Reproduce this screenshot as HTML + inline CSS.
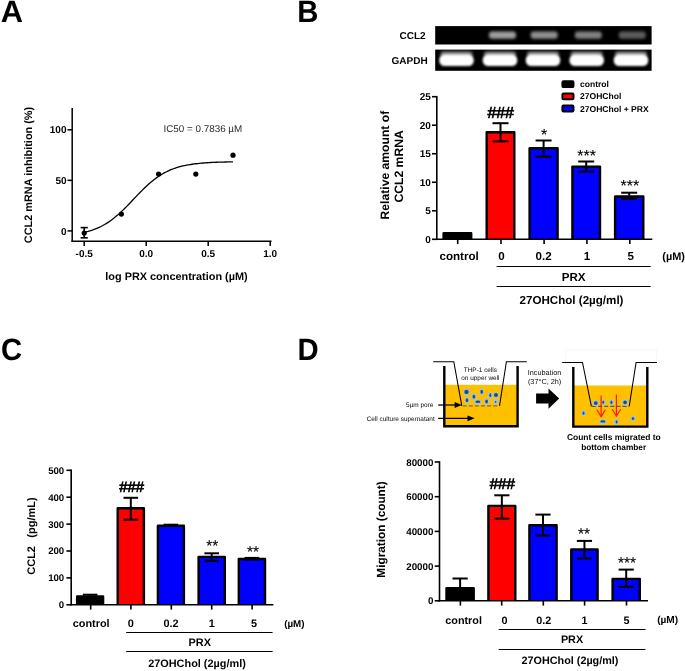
<!DOCTYPE html>
<html><head><meta charset="utf-8"><title>Figure</title>
<style>html,body{margin:0;padding:0;background:#fff;}svg{display:block;will-change:transform;font-family:"Liberation Sans",sans-serif;}</style>
</head><body>
<svg width="685" height="671" viewBox="0 0 685 671" font-family="Liberation Sans, sans-serif" text-rendering="geometricPrecision">
<rect width="685" height="671" fill="#fff"/>
<text x="0.8" y="22.1" font-size="30.8" font-weight="bold" text-anchor="start" fill="#000" >A</text>
<text transform="translate(297.2,22.1) scale(0.95,1)" font-size="30.8" font-weight="bold">B</text>
<text transform="translate(1.1,360.3) scale(0.95,1)" font-size="30.8" font-weight="bold">C</text>
<text transform="translate(297.5,360.3) scale(0.95,1)" font-size="30.8" font-weight="bold">D</text>
<line x1="72.2" y1="108" x2="72.2" y2="241.95" stroke="#000" stroke-width="1.5" />
<line x1="71.45" y1="241.2" x2="271.5" y2="241.2" stroke="#000" stroke-width="1.5" />
<line x1="67.5" y1="230.9" x2="72.2" y2="230.9" stroke="#000" stroke-width="1.5" />
<text x="66.5" y="234.5" font-size="10" font-weight="bold" text-anchor="end" fill="#000" >0</text>
<line x1="67.5" y1="180.35000000000002" x2="72.2" y2="180.35000000000002" stroke="#000" stroke-width="1.5" />
<text x="66.5" y="183.95000000000002" font-size="10" font-weight="bold" text-anchor="end" fill="#000" >50</text>
<line x1="67.5" y1="129.8" x2="72.2" y2="129.8" stroke="#000" stroke-width="1.5" />
<text x="66.5" y="133.4" font-size="10" font-weight="bold" text-anchor="end" fill="#000" >100</text>
<line x1="84.19999999999999" y1="241.2" x2="84.19999999999999" y2="245.89999999999998" stroke="#000" stroke-width="1.5" />
<text x="84.19999999999999" y="256.7" font-size="10" font-weight="bold" text-anchor="middle" fill="#000" >-0.5</text>
<line x1="146.2" y1="241.2" x2="146.2" y2="245.89999999999998" stroke="#000" stroke-width="1.5" />
<text x="146.2" y="256.7" font-size="10" font-weight="bold" text-anchor="middle" fill="#000" >0.0</text>
<line x1="208.2" y1="241.2" x2="208.2" y2="245.89999999999998" stroke="#000" stroke-width="1.5" />
<text x="208.2" y="256.7" font-size="10" font-weight="bold" text-anchor="middle" fill="#000" >0.5</text>
<line x1="270.2" y1="241.2" x2="270.2" y2="245.89999999999998" stroke="#000" stroke-width="1.5" />
<text x="270.2" y="256.7" font-size="10" font-weight="bold" text-anchor="middle" fill="#000" >1.0</text>
<polyline points="84.20,232.38 86.06,231.93 87.92,231.44 89.78,230.90 91.64,230.31 93.50,229.66 95.36,228.96 97.22,228.20 99.08,227.37 100.94,226.48 102.80,225.51 104.66,224.48 106.52,223.36 108.38,222.17 110.24,220.90 112.10,219.54 113.96,218.11 115.82,216.60 117.68,215.02 119.54,213.36 121.40,211.64 123.26,209.86 125.12,208.02 126.98,206.13 128.84,204.21 130.70,202.26 132.56,200.30 134.42,198.32 136.28,196.35 138.14,194.40 140.00,192.48 141.86,190.58 143.72,188.74 145.58,186.94 147.44,185.21 149.30,183.54 151.16,181.95 153.02,180.42 154.88,178.98 156.74,177.61 158.60,176.33 160.46,175.12 162.32,174.00 164.18,172.94 166.04,171.97 167.90,171.06 169.76,170.22 171.62,169.45 173.48,168.74 175.34,168.09 177.20,167.49 179.06,166.94 180.92,166.44 182.78,165.98 184.64,165.57 186.50,165.19 188.36,164.84 190.22,164.53 192.08,164.24 193.94,163.98 195.80,163.75 197.66,163.54 199.52,163.35 201.38,163.17 203.24,163.02 205.10,162.87 206.96,162.75 208.82,162.63 210.68,162.52 212.54,162.43 214.40,162.34 216.26,162.27 218.12,162.20 219.98,162.14 221.84,162.08 223.70,162.03 225.56,161.98 227.42,161.94 229.28,161.90 231.14,161.87 233.00,161.84" fill="none" stroke="#000" stroke-width="1.3"/>
<circle cx="84.2" cy="233.0" r="2.6" fill="#000"/>
<circle cx="121.4" cy="214.1" r="2.6" fill="#000"/>
<circle cx="158.6" cy="174.1" r="2.6" fill="#000"/>
<circle cx="195.8" cy="174.1" r="2.6" fill="#000"/>
<circle cx="233.0" cy="155.2" r="2.6" fill="#000"/>
<line x1="84.19999999999999" y1="227.6" x2="84.19999999999999" y2="237.8" stroke="#000" stroke-width="1.6" />
<line x1="80.6" y1="227.6" x2="87.79999999999998" y2="227.6" stroke="#000" stroke-width="1.6" />
<line x1="80.6" y1="237.8" x2="87.79999999999998" y2="237.8" stroke="#000" stroke-width="1.6" />
<text x="163.5" y="131.5" font-size="9.85"  text-anchor="start" fill="#2c2c2c" >IC50 = 0.7836 µM</text>
<text x="176.5" y="280.0" font-size="10.9" font-weight="bold" text-anchor="middle" fill="#000" >log PRX concentration (µM)</text>
<text transform="translate(32,175) rotate(-90)" font-size="10.9" font-weight="bold" text-anchor="middle" >CCL2 mRNA inhibition (%)</text>
<path d="M443.59999999999997,239.3 V233.29999999999998 H471.2 V239.3" fill="#000000" stroke="#000" stroke-width="2.4" stroke-linejoin="round"/>
<line x1="457.7" y1="239.3" x2="457.7" y2="244.10000000000002" stroke="#000" stroke-width="1.6" />
<line x1="500.5" y1="123.2" x2="500.5" y2="132.0" stroke="#000" stroke-width="2.0" />
<line x1="492.5" y1="123.2" x2="508.5" y2="123.2" stroke="#000" stroke-width="2.0" />
<path d="M486.7,239.3 V132.2 H514.3 V239.3" fill="#ff0000" stroke="#000" stroke-width="2.4" stroke-linejoin="round"/>
<line x1="500.5" y1="132.0" x2="500.5" y2="141.4" stroke="#000" stroke-width="2.0" />
<line x1="492.5" y1="141.4" x2="508.5" y2="141.4" stroke="#000" stroke-width="2.0" />
<line x1="501" y1="239.3" x2="501" y2="244.10000000000002" stroke="#000" stroke-width="1.6" />
<line x1="543.5999999999999" y1="140.5" x2="543.5999999999999" y2="148.0" stroke="#000" stroke-width="2.0" />
<line x1="535.5999999999999" y1="140.5" x2="551.5999999999999" y2="140.5" stroke="#000" stroke-width="2.0" />
<path d="M529.6,239.3 V148.2 H557.5999999999999 V239.3" fill="#0000ff" stroke="#000" stroke-width="2.4" stroke-linejoin="round"/>
<line x1="543.5999999999999" y1="148.0" x2="543.5999999999999" y2="156.6" stroke="#000" stroke-width="2.0" />
<line x1="535.5999999999999" y1="156.6" x2="551.5999999999999" y2="156.6" stroke="#000" stroke-width="2.0" />
<line x1="544.1" y1="239.3" x2="544.1" y2="244.10000000000002" stroke="#000" stroke-width="1.6" />
<line x1="586.2" y1="161.5" x2="586.2" y2="166.4" stroke="#000" stroke-width="2.0" />
<line x1="578.2" y1="161.5" x2="594.2" y2="161.5" stroke="#000" stroke-width="2.0" />
<path d="M572.4000000000001,239.3 V166.6 H600.0 V239.3" fill="#0000ff" stroke="#000" stroke-width="2.4" stroke-linejoin="round"/>
<line x1="586.2" y1="166.4" x2="586.2" y2="171.7" stroke="#000" stroke-width="2.0" />
<line x1="578.2" y1="171.7" x2="594.2" y2="171.7" stroke="#000" stroke-width="2.0" />
<line x1="586.9" y1="239.3" x2="586.9" y2="244.10000000000002" stroke="#000" stroke-width="1.6" />
<line x1="629.2" y1="192.7" x2="629.2" y2="196.3" stroke="#000" stroke-width="2.0" />
<line x1="621.2" y1="192.7" x2="637.2" y2="192.7" stroke="#000" stroke-width="2.0" />
<path d="M615.1,239.3 V196.5 H643.3 V239.3" fill="#0000ff" stroke="#000" stroke-width="2.4" stroke-linejoin="round"/>
<line x1="629.2" y1="196.3" x2="629.2" y2="198.8" stroke="#000" stroke-width="2.0" />
<line x1="621.2" y1="198.8" x2="637.2" y2="198.8" stroke="#000" stroke-width="2.0" />
<line x1="629.8" y1="239.3" x2="629.8" y2="244.10000000000002" stroke="#000" stroke-width="1.6" />
<line x1="436.8" y1="95.9" x2="436.8" y2="240.10000000000002" stroke="#000" stroke-width="1.6" />
<line x1="436.0" y1="239.3" x2="652.3" y2="239.3" stroke="#000" stroke-width="1.6" />
<line x1="432.0" y1="239.3" x2="436.8" y2="239.3" stroke="#000" stroke-width="1.6" />
<text x="430.8" y="242.9" font-size="10" font-weight="bold" text-anchor="end" fill="#000" >0</text>
<line x1="432.0" y1="210.78" x2="436.8" y2="210.78" stroke="#000" stroke-width="1.6" />
<text x="430.8" y="214.38" font-size="10" font-weight="bold" text-anchor="end" fill="#000" >5</text>
<line x1="432.0" y1="182.26000000000002" x2="436.8" y2="182.26000000000002" stroke="#000" stroke-width="1.6" />
<text x="430.8" y="185.86" font-size="10" font-weight="bold" text-anchor="end" fill="#000" >10</text>
<line x1="432.0" y1="153.74" x2="436.8" y2="153.74" stroke="#000" stroke-width="1.6" />
<text x="430.8" y="157.34" font-size="10" font-weight="bold" text-anchor="end" fill="#000" >15</text>
<line x1="432.0" y1="125.22000000000001" x2="436.8" y2="125.22000000000001" stroke="#000" stroke-width="1.6" />
<text x="430.8" y="128.82000000000002" font-size="10" font-weight="bold" text-anchor="end" fill="#000" >20</text>
<line x1="432.0" y1="96.70000000000002" x2="436.8" y2="96.70000000000002" stroke="#000" stroke-width="1.6" />
<text x="430.8" y="100.30000000000001" font-size="10" font-weight="bold" text-anchor="end" fill="#000" >25</text>
<text x="459.1" y="260.3" font-size="11.6" font-weight="bold" text-anchor="middle" fill="#000" >control</text>
<text x="501.6" y="260.3" font-size="11.6" font-weight="bold" text-anchor="middle" fill="#000" >0</text>
<text x="543.6" y="260.3" font-size="11.6" font-weight="bold" text-anchor="middle" fill="#000" >0.2</text>
<text x="586.9" y="260.3" font-size="11.6" font-weight="bold" text-anchor="middle" fill="#000" >1</text>
<text x="630.8" y="260.3" font-size="11.6" font-weight="bold" text-anchor="middle" fill="#000" >5</text>
<text x="662.3" y="260.3" font-size="10.9" font-weight="bold" text-anchor="start" fill="#000" >(µM)</text>
<line x1="496.6" y1="266.5" x2="650.7" y2="266.5" stroke="#000" stroke-width="1" />
<line x1="496.6" y1="286.5" x2="650.7" y2="286.5" stroke="#000" stroke-width="1" />
<text x="573.7" y="280.8" font-size="11.6" font-weight="bold" text-anchor="middle" fill="#000" >PRX</text>
<text x="571.5" y="303.5" font-size="11.6" font-weight="bold" text-anchor="middle" fill="#000" >27OHChol (2µg/ml)</text>
<text x="500.7" y="118.2" font-size="15.9"  text-anchor="middle" fill="#000" stroke="#000" stroke-width="0.7">###</text>
<text x="544.1" y="139.6" font-size="16"  text-anchor="middle" fill="#000" stroke="#000" stroke-width="0.12">*</text>
<text x="586.6" y="160.8" font-size="16"  text-anchor="middle" fill="#000" stroke="#000" stroke-width="0.12">***</text>
<text x="629.8" y="191.2" font-size="16"  text-anchor="middle" fill="#000" stroke="#000" stroke-width="0.12">***</text>
<text transform="translate(389.2,165.1) rotate(-90)" font-size="12.15" font-weight="bold" text-anchor="middle" >Relative amount of</text>
<text transform="translate(403.2,166.4) rotate(-90)" font-size="12.15" font-weight="bold" text-anchor="middle" >CCL2 mRNA</text>
<rect x="562.4" y="81.2" width="11.1" height="5.9" rx="1.2" fill="#000000" stroke="#000" stroke-width="2"/>
<text x="580" y="87.1" font-size="8.55" font-weight="bold" text-anchor="start" fill="#000" >control</text>
<rect x="562.4" y="93.4" width="11.1" height="5.9" rx="1.2" fill="#ff0000" stroke="#000" stroke-width="2"/>
<text x="580" y="99.3" font-size="8.55" font-weight="bold" text-anchor="start" fill="#000" >27OHChol</text>
<rect x="562.4" y="105.60000000000001" width="11.1" height="5.9" rx="1.2" fill="#0000ff" stroke="#000" stroke-width="2"/>
<text x="580" y="111.5" font-size="8.55" font-weight="bold" text-anchor="start" fill="#000" >27OHChol + PRX</text>
<text x="399.5" y="38.6" font-size="10" font-weight="bold" text-anchor="start" fill="#000" >CCL2</text>
<text x="391.5" y="63.6" font-size="10" font-weight="bold" text-anchor="start" fill="#000" >GAPDH</text>
<rect x="435.2" y="26.1" width="216.4" height="18.4" fill="#000"  />
<rect x="435.2" y="49.6" width="216.4" height="21.2" fill="#000"  />
<defs><filter id="bl" x="-20%" y="-50%" width="140%" height="200%"><feGaussianBlur stdDeviation="1.6"/></filter><filter id="bl2" x="-20%" y="-50%" width="140%" height="200%"><feGaussianBlur stdDeviation="1.25"/></filter></defs>
<rect x="489.0" y="31.6" width="27" height="7.2" rx="3" fill="#fff" opacity="0.62" filter="url(#bl)"/>
<rect x="530.7" y="31.6" width="27" height="7.2" rx="3" fill="#fff" opacity="0.56" filter="url(#bl)"/>
<rect x="574.8" y="31.6" width="27" height="7.2" rx="3" fill="#fff" opacity="0.5" filter="url(#bl)"/>
<rect x="618.8" y="31.6" width="27" height="7.2" rx="3" fill="#fff" opacity="0.36" filter="url(#bl)"/>
<rect x="440.5" y="51.5" width="32" height="6" rx="3" fill="#fff" opacity="0.55" filter="url(#bl)"/>
<rect x="439.2" y="54.6" width="34.6" height="11.4" rx="5.5" fill="#fff" filter="url(#bl2)"/>
<rect x="484" y="51.5" width="32" height="6" rx="3" fill="#fff" opacity="0.55" filter="url(#bl)"/>
<rect x="482.7" y="54.6" width="34.6" height="11.4" rx="5.5" fill="#fff" filter="url(#bl2)"/>
<rect x="527" y="51.5" width="32" height="6" rx="3" fill="#fff" opacity="0.55" filter="url(#bl)"/>
<rect x="525.7" y="54.6" width="34.6" height="11.4" rx="5.5" fill="#fff" filter="url(#bl2)"/>
<rect x="570.7" y="51.5" width="32" height="6" rx="3" fill="#fff" opacity="0.55" filter="url(#bl)"/>
<rect x="569.4000000000001" y="54.6" width="34.6" height="11.4" rx="5.5" fill="#fff" filter="url(#bl2)"/>
<rect x="615" y="51.5" width="32" height="6" rx="3" fill="#fff" opacity="0.55" filter="url(#bl)"/>
<rect x="613.7" y="54.6" width="34.6" height="11.4" rx="5.5" fill="#fff" filter="url(#bl2)"/>
<line x1="90.1" y1="594.7" x2="90.1" y2="596.2" stroke="#000" stroke-width="2.0" />
<line x1="82.8" y1="594.7" x2="97.39999999999999" y2="594.7" stroke="#000" stroke-width="2.0" />
<path d="M77.10000000000001,604.8 V596.4000000000001 H103.1 V604.8" fill="#000000" stroke="#000" stroke-width="2.4" stroke-linejoin="round"/>
<line x1="90.7" y1="604.8" x2="90.7" y2="609.5999999999999" stroke="#000" stroke-width="1.6" />
<line x1="130.8" y1="497.8" x2="130.8" y2="508.0" stroke="#000" stroke-width="2.0" />
<line x1="123.50000000000001" y1="497.8" x2="138.10000000000002" y2="497.8" stroke="#000" stroke-width="2.0" />
<path d="M117.7,604.8 V508.2 H143.9 V604.8" fill="#ff0000" stroke="#000" stroke-width="2.4" stroke-linejoin="round"/>
<line x1="130.8" y1="508.0" x2="130.8" y2="519.7" stroke="#000" stroke-width="2.0" />
<line x1="123.50000000000001" y1="519.7" x2="138.10000000000002" y2="519.7" stroke="#000" stroke-width="2.0" />
<line x1="130.9" y1="604.8" x2="130.9" y2="609.5999999999999" stroke="#000" stroke-width="1.6" />
<line x1="170.89999999999998" y1="524.7" x2="170.89999999999998" y2="525.6" stroke="#000" stroke-width="2.0" />
<line x1="163.59999999999997" y1="524.7" x2="178.2" y2="524.7" stroke="#000" stroke-width="2.0" />
<path d="M157.89999999999998,604.8 V525.8000000000001 H183.9 V604.8" fill="#0000ff" stroke="#000" stroke-width="2.4" stroke-linejoin="round"/>
<line x1="170.89999999999998" y1="525.6" x2="170.89999999999998" y2="526.0" stroke="#000" stroke-width="2.0" />
<line x1="163.59999999999997" y1="526.0" x2="178.2" y2="526.0" stroke="#000" stroke-width="2.0" />
<line x1="171.3" y1="604.8" x2="171.3" y2="609.5999999999999" stroke="#000" stroke-width="1.6" />
<line x1="211.7" y1="553.3" x2="211.7" y2="556.7" stroke="#000" stroke-width="2.0" />
<line x1="204.39999999999998" y1="553.3" x2="219.0" y2="553.3" stroke="#000" stroke-width="2.0" />
<path d="M198.6,604.8 V556.9000000000001 H224.8 V604.8" fill="#0000ff" stroke="#000" stroke-width="2.4" stroke-linejoin="round"/>
<line x1="211.7" y1="556.7" x2="211.7" y2="560.8" stroke="#000" stroke-width="2.0" />
<line x1="204.39999999999998" y1="560.8" x2="219.0" y2="560.8" stroke="#000" stroke-width="2.0" />
<line x1="211.7" y1="604.8" x2="211.7" y2="609.5999999999999" stroke="#000" stroke-width="1.6" />
<line x1="251.89999999999998" y1="557.9" x2="251.89999999999998" y2="558.8" stroke="#000" stroke-width="2.0" />
<line x1="244.59999999999997" y1="557.9" x2="259.2" y2="557.9" stroke="#000" stroke-width="2.0" />
<path d="M238.79999999999998,604.8 V559.0 H265.0 V604.8" fill="#0000ff" stroke="#000" stroke-width="2.4" stroke-linejoin="round"/>
<line x1="251.89999999999998" y1="558.8" x2="251.89999999999998" y2="559.4" stroke="#000" stroke-width="2.0" />
<line x1="244.59999999999997" y1="559.4" x2="259.2" y2="559.4" stroke="#000" stroke-width="2.0" />
<line x1="252.1" y1="604.8" x2="252.1" y2="609.5999999999999" stroke="#000" stroke-width="1.6" />
<line x1="71.2" y1="469.5" x2="71.2" y2="605.5999999999999" stroke="#000" stroke-width="1.6" />
<line x1="70.4" y1="604.8" x2="273.4" y2="604.8" stroke="#000" stroke-width="1.6" />
<line x1="66.4" y1="604.8" x2="71.2" y2="604.8" stroke="#000" stroke-width="1.6" />
<text x="64.2" y="608.274" font-size="9.65" font-weight="bold" text-anchor="end" fill="#000" >0</text>
<line x1="66.4" y1="577.9" x2="71.2" y2="577.9" stroke="#000" stroke-width="1.6" />
<text x="64.2" y="581.374" font-size="9.65" font-weight="bold" text-anchor="end" fill="#000" >100</text>
<line x1="66.4" y1="551.0" x2="71.2" y2="551.0" stroke="#000" stroke-width="1.6" />
<text x="64.2" y="554.474" font-size="9.65" font-weight="bold" text-anchor="end" fill="#000" >200</text>
<line x1="66.4" y1="524.0999999999999" x2="71.2" y2="524.0999999999999" stroke="#000" stroke-width="1.6" />
<text x="64.2" y="527.574" font-size="9.65" font-weight="bold" text-anchor="end" fill="#000" >300</text>
<line x1="66.4" y1="497.19999999999993" x2="71.2" y2="497.19999999999993" stroke="#000" stroke-width="1.6" />
<text x="64.2" y="500.6739999999999" font-size="9.65" font-weight="bold" text-anchor="end" fill="#000" >400</text>
<line x1="66.4" y1="470.29999999999995" x2="71.2" y2="470.29999999999995" stroke="#000" stroke-width="1.6" />
<text x="64.2" y="473.77399999999994" font-size="9.65" font-weight="bold" text-anchor="end" fill="#000" >500</text>
<text x="91.2" y="626.7" font-size="10.9" font-weight="bold" text-anchor="middle" fill="#000" >control</text>
<text x="130.9" y="626.7" font-size="10.9" font-weight="bold" text-anchor="middle" fill="#000" >0</text>
<text x="171" y="626.7" font-size="10.9" font-weight="bold" text-anchor="middle" fill="#000" >0.2</text>
<text x="211.7" y="626.7" font-size="10.9" font-weight="bold" text-anchor="middle" fill="#000" >1</text>
<text x="254" y="626.7" font-size="10.9" font-weight="bold" text-anchor="middle" fill="#000" >5</text>
<text x="284.2" y="626.7" font-size="9.8" font-weight="bold" text-anchor="start" fill="#000" >(µM)</text>
<line x1="126.2" y1="632.5" x2="272.6" y2="632.5" stroke="#000" stroke-width="1" />
<line x1="126.2" y1="651.5" x2="272.6" y2="651.5" stroke="#000" stroke-width="1" />
<text x="199.8" y="646.4" font-size="10.9" font-weight="bold" text-anchor="middle" fill="#000" >PRX</text>
<text x="197" y="667.4" font-size="10.9" font-weight="bold" text-anchor="middle" fill="#000" >27OHChol (2µg/ml)</text>
<text x="131.7" y="491.7" font-size="14.9"  text-anchor="middle" fill="#000" stroke="#000" stroke-width="0.7">###</text>
<text x="212.2" y="551.0" font-size="15.5"  text-anchor="middle" fill="#000" stroke="#000" stroke-width="0.12">**</text>
<text x="253.1" y="557.2" font-size="15.5"  text-anchor="middle" fill="#000" stroke="#000" stroke-width="0.12">**</text>
<text transform="translate(35.2,560.4) rotate(-90)" font-size="11" font-weight="bold" text-anchor="middle" >CCL2</text>
<text transform="translate(35.2,517.5) rotate(-90)" font-size="11" font-weight="bold" text-anchor="middle" >(pg/mL)</text>
<line x1="460.1" y1="578.5" x2="460.1" y2="588.1" stroke="#000" stroke-width="2.0" />
<line x1="452.5" y1="578.5" x2="467.70000000000005" y2="578.5" stroke="#000" stroke-width="2.0" />
<path d="M446.5,600.8 V588.3000000000001 H473.7 V600.8" fill="#000000" stroke="#000" stroke-width="2.4" stroke-linejoin="round"/>
<line x1="460.4" y1="600.8" x2="460.4" y2="605.5999999999999" stroke="#000" stroke-width="1.6" />
<line x1="501.85" y1="495.3" x2="501.85" y2="505.7" stroke="#000" stroke-width="2.0" />
<line x1="494.25" y1="495.3" x2="509.45000000000005" y2="495.3" stroke="#000" stroke-width="2.0" />
<path d="M488.4,600.8 V505.9 H515.3 V600.8" fill="#ff0000" stroke="#000" stroke-width="2.4" stroke-linejoin="round"/>
<line x1="501.85" y1="505.7" x2="501.85" y2="518.6" stroke="#000" stroke-width="2.0" />
<line x1="494.25" y1="518.6" x2="509.45000000000005" y2="518.6" stroke="#000" stroke-width="2.0" />
<line x1="501.7" y1="600.8" x2="501.7" y2="605.5999999999999" stroke="#000" stroke-width="1.6" />
<line x1="543.0" y1="514.6" x2="543.0" y2="525.0" stroke="#000" stroke-width="2.0" />
<line x1="535.4" y1="514.6" x2="550.6" y2="514.6" stroke="#000" stroke-width="2.0" />
<path d="M529.4000000000001,600.8 V525.2 H556.5999999999999 V600.8" fill="#0000ff" stroke="#000" stroke-width="2.4" stroke-linejoin="round"/>
<line x1="543.0" y1="525.0" x2="543.0" y2="535.5" stroke="#000" stroke-width="2.0" />
<line x1="535.4" y1="535.5" x2="550.6" y2="535.5" stroke="#000" stroke-width="2.0" />
<line x1="543.3" y1="600.8" x2="543.3" y2="605.5999999999999" stroke="#000" stroke-width="1.6" />
<line x1="584.45" y1="540.9" x2="584.45" y2="549.2" stroke="#000" stroke-width="2.0" />
<line x1="576.85" y1="540.9" x2="592.0500000000001" y2="540.9" stroke="#000" stroke-width="2.0" />
<path d="M571.3000000000001,600.8 V549.4000000000001 H597.5999999999999 V600.8" fill="#0000ff" stroke="#000" stroke-width="2.4" stroke-linejoin="round"/>
<line x1="584.45" y1="549.2" x2="584.45" y2="558.4" stroke="#000" stroke-width="2.0" />
<line x1="576.85" y1="558.4" x2="592.0500000000001" y2="558.4" stroke="#000" stroke-width="2.0" />
<line x1="584.6" y1="600.8" x2="584.6" y2="605.5999999999999" stroke="#000" stroke-width="1.6" />
<line x1="626.2" y1="569.6" x2="626.2" y2="578.7" stroke="#000" stroke-width="2.0" />
<line x1="618.6" y1="569.6" x2="633.8000000000001" y2="569.6" stroke="#000" stroke-width="2.0" />
<path d="M612.6,600.8 V578.9000000000001 H639.8 V600.8" fill="#0000ff" stroke="#000" stroke-width="2.4" stroke-linejoin="round"/>
<line x1="626.2" y1="578.7" x2="626.2" y2="586.8" stroke="#000" stroke-width="2.0" />
<line x1="618.6" y1="586.8" x2="633.8000000000001" y2="586.8" stroke="#000" stroke-width="2.0" />
<line x1="626.5" y1="600.8" x2="626.5" y2="605.5999999999999" stroke="#000" stroke-width="1.6" />
<line x1="439.5" y1="461.2" x2="439.5" y2="601.5999999999999" stroke="#000" stroke-width="1.6" />
<line x1="438.7" y1="600.8" x2="648" y2="600.8" stroke="#000" stroke-width="1.6" />
<line x1="434.7" y1="600.8" x2="439.5" y2="600.8" stroke="#000" stroke-width="1.6" />
<text x="433.4" y="604.31" font-size="9.75" font-weight="bold" text-anchor="end" fill="#000" >0</text>
<line x1="434.7" y1="566.0999999999999" x2="439.5" y2="566.0999999999999" stroke="#000" stroke-width="1.6" />
<text x="433.4" y="569.6099999999999" font-size="9.75" font-weight="bold" text-anchor="end" fill="#000" >20000</text>
<line x1="434.7" y1="531.4" x2="439.5" y2="531.4" stroke="#000" stroke-width="1.6" />
<text x="433.4" y="534.91" font-size="9.75" font-weight="bold" text-anchor="end" fill="#000" >40000</text>
<line x1="434.7" y1="496.69999999999993" x2="439.5" y2="496.69999999999993" stroke="#000" stroke-width="1.6" />
<text x="433.4" y="500.2099999999999" font-size="9.75" font-weight="bold" text-anchor="end" fill="#000" >60000</text>
<line x1="434.7" y1="461.99999999999994" x2="439.5" y2="461.99999999999994" stroke="#000" stroke-width="1.6" />
<text x="433.4" y="465.50999999999993" font-size="9.75" font-weight="bold" text-anchor="end" fill="#000" >80000</text>
<text x="463.6" y="623.6" font-size="10.8" font-weight="bold" text-anchor="middle" fill="#000" >control</text>
<text x="504.4" y="623.6" font-size="10.8" font-weight="bold" text-anchor="middle" fill="#000" >0</text>
<text x="543.8" y="624.3000000000001" font-size="10.8" font-weight="bold" text-anchor="middle" fill="#000" >0.2</text>
<text x="584.6" y="624.3000000000001" font-size="10.8" font-weight="bold" text-anchor="middle" fill="#000" >1</text>
<text x="626.5" y="624.3000000000001" font-size="10.8" font-weight="bold" text-anchor="middle" fill="#000" >5</text>
<text x="657.2" y="623.2" font-size="10.1" font-weight="bold" text-anchor="start" fill="#000" >(µM)</text>
<line x1="498.7" y1="629.5" x2="645.5" y2="629.5" stroke="#000" stroke-width="1" />
<line x1="498.7" y1="649.5" x2="645.5" y2="649.5" stroke="#000" stroke-width="1" />
<text x="572" y="643.3" font-size="10.8" font-weight="bold" text-anchor="middle" fill="#000" >PRX</text>
<text x="570" y="664.2" font-size="10.8" font-weight="bold" text-anchor="middle" fill="#000" >27OHChol (2µg/ml)</text>
<text x="502.3" y="489.2" font-size="15.1"  text-anchor="middle" fill="#000" stroke="#000" stroke-width="0.7">###</text>
<text x="584" y="538.5" font-size="15.5"  text-anchor="middle" fill="#000" stroke="#000" stroke-width="0.12">**</text>
<text x="627" y="567.9" font-size="15.5"  text-anchor="middle" fill="#000" stroke="#000" stroke-width="0.12">***</text>
<text transform="translate(384.9,529.5) rotate(-90)" font-size="11.8" font-weight="bold" text-anchor="middle" >Migration (count)</text>
<rect x="444.3" y="384.8" width="73.3" height="41.4" fill="#ffc000"  />
<path d="M444.3,366.1 V426.2 H517.6 V366.1" fill="none" stroke="#000" stroke-width="2.4"/>
<path d="M433.2,361.7 H453.8 L461.8,405.8" fill="none" stroke="#000" stroke-width="1.05"/>
<path d="M526.8,361.7 H506.4 L499.5,405.8" fill="none" stroke="#000" stroke-width="1.05"/>
<line x1="462.6" y1="405.9" x2="499.2" y2="405.9" stroke="#6b6f7a" stroke-width="1.3" stroke-dasharray="4.1,2"/>
<ellipse cx="466.5" cy="391.9" rx="3.4" ry="3.4" fill="#9dc3e6"/>
<ellipse cx="466.5" cy="391.9" rx="2.2" ry="2.2" fill="#1f4e79"/>
<ellipse cx="481.7" cy="391.8" rx="2.4" ry="3.2" fill="#9dc3e6"/>
<ellipse cx="481.7" cy="391.8" rx="1.3" ry="2.1" fill="#1f4e79"/>
<ellipse cx="473.9" cy="396.7" rx="2.7" ry="3.1" fill="#9dc3e6"/>
<ellipse cx="473.9" cy="396.7" rx="1.4" ry="1.9" fill="#1f4e79"/>
<ellipse cx="490.3" cy="395.3" rx="2.2" ry="3.1" fill="#9dc3e6"/>
<ellipse cx="490.3" cy="395.3" rx="1.0" ry="2.0" fill="#1f4e79"/>
<ellipse cx="496" cy="394.9" rx="3.0" ry="3.0" fill="#9dc3e6"/>
<ellipse cx="496" cy="394.9" rx="2.0" ry="2.0" fill="#1f4e79"/>
<ellipse cx="467" cy="400.2" rx="2.5" ry="3.1" fill="#9dc3e6"/>
<ellipse cx="467" cy="400.2" rx="1.3" ry="2.0" fill="#1f4e79"/>
<ellipse cx="477.9" cy="401.8" rx="3.9" ry="2.4" fill="#9dc3e6"/>
<ellipse cx="477.9" cy="401.8" rx="2.5" ry="1.2" fill="#1f4e79"/>
<ellipse cx="486.6" cy="401.4" rx="2.6" ry="3.2" fill="#9dc3e6"/>
<ellipse cx="486.6" cy="401.4" rx="1.4" ry="2.0" fill="#1f4e79"/>
<ellipse cx="495.6" cy="401.8" rx="2.5" ry="2.5" fill="#9dc3e6"/>
<ellipse cx="495.6" cy="401.8" rx="0.9" ry="0.9" fill="#1f4e79"/>
<text x="480.4" y="371.8" font-size="6.45"  text-anchor="middle" fill="#0a0a0a" >THP-1 cells</text>
<text x="480.4" y="379.8" font-size="6.45"  text-anchor="middle" fill="#0a0a0a" >on upper well</text>
<text x="433.4" y="406.5" font-size="6.45"  text-anchor="end" fill="#0a0a0a" >5µm pore</text>
<text x="434.7" y="420.5" font-size="6.45"  text-anchor="end" fill="#0a0a0a" >Cell culture supernatant</text>
<line x1="438.2" y1="405.0" x2="457.8" y2="405.0" stroke="#000" stroke-width="1.25" />
<path d="M461.8,405.0 L454.6,402.1 L454.6,407.9 Z" fill="#000"/>
<line x1="438.2" y1="418.3" x2="470.7" y2="418.3" stroke="#000" stroke-width="1.25" />
<path d="M474.7,418.3 L467.5,415.40000000000003 L467.5,421.2 Z" fill="#000"/>
<path d="M536.1,393.4 H548.5 V388.5 L559.2,398.6 L548.5,408.8 V403.4 H536.1 Z" fill="#000"/>
<text x="544.6" y="374.8" font-size="7.3"  text-anchor="middle" fill="#0a0a0a" >Incubation</text>
<text x="544.6" y="384" font-size="7.3"  text-anchor="middle" fill="#0a0a0a" >(37°C, 2h)</text>
<path d="M565.5,361.5 V350 H656.5 V361.5" fill="none" stroke="#f6f6f6" stroke-width="1"/>
<rect x="573.3" y="385.5" width="74" height="40.7" fill="#ffc000"  />
<path d="M573.3,366.9 V426.6 H647.3 V366.9" fill="none" stroke="#000" stroke-width="2.4"/>
<path d="M562.2,362.4 H582.5 L591.4,406.3" fill="none" stroke="#000" stroke-width="1.05"/>
<path d="M657,362.4 H636.1 L629.2,406.3" fill="none" stroke="#000" stroke-width="1.05"/>
<line x1="592" y1="406.35" x2="629" y2="406.35" stroke="#4d5b78" stroke-width="1.2" stroke-dasharray="4.1,2"/>
<ellipse cx="595.8" cy="403.1" rx="3.1" ry="3.1" fill="#9dc3e6"/>
<ellipse cx="595.8" cy="403.1" rx="1.9" ry="1.9" fill="#1f4e79"/>
<ellipse cx="603.2" cy="402.3" rx="2.2" ry="3.0" fill="#9dc3e6"/>
<ellipse cx="603.2" cy="402.3" rx="0.9" ry="1.8" fill="#1f4e79"/>
<ellipse cx="611.4" cy="402.3" rx="2.4" ry="3.0" fill="#9dc3e6"/>
<ellipse cx="611.4" cy="402.3" rx="1.0" ry="1.9" fill="#1f4e79"/>
<ellipse cx="625.1" cy="402.3" rx="3.1" ry="3.1" fill="#9dc3e6"/>
<ellipse cx="625.1" cy="402.3" rx="1.9" ry="1.9" fill="#1f4e79"/>
<ellipse cx="583.5" cy="413.2" rx="2.4" ry="2.9" fill="#9dc3e6"/>
<ellipse cx="583.5" cy="413.2" rx="1.0" ry="1.6" fill="#1f4e79"/>
<ellipse cx="633" cy="418.6" rx="2.7" ry="2.7" fill="#9dc3e6"/>
<ellipse cx="633" cy="418.6" rx="1.3" ry="1.3" fill="#1f4e79"/>
<ellipse cx="602.9" cy="421.4" rx="4.0" ry="2.5" fill="#9dc3e6"/>
<ellipse cx="602.9" cy="421.4" rx="2.6" ry="1.2" fill="#1f4e79"/>
<ellipse cx="616.6" cy="421.9" rx="2.4" ry="2.9" fill="#9dc3e6"/>
<ellipse cx="616.6" cy="421.9" rx="1.0" ry="1.6" fill="#1f4e79"/>
<line x1="601.1" y1="395.4" x2="601.1" y2="416.0" stroke="#ff1800" stroke-width="1.2" />
<path d="M596.9,409.8 L601.1,416.8 L605.3000000000001,409.8" fill="none" stroke="#ff1800" stroke-width="1.2" stroke-linejoin="miter"/>
<line x1="616.4" y1="394.6" x2="616.4" y2="415.4" stroke="#ff1800" stroke-width="1.2" />
<path d="M612.1999999999999,409.2 L616.4,416.2 L620.6,409.2" fill="none" stroke="#ff1800" stroke-width="1.2" stroke-linejoin="miter"/>
<text x="613.8" y="439.8" font-size="8.45" font-weight="bold" text-anchor="middle" fill="#000" >Count cells migrated to</text>
<text x="613.7" y="450" font-size="8.3" font-weight="bold" text-anchor="middle" fill="#000" >bottom chamber</text>
</svg>
</body></html>
